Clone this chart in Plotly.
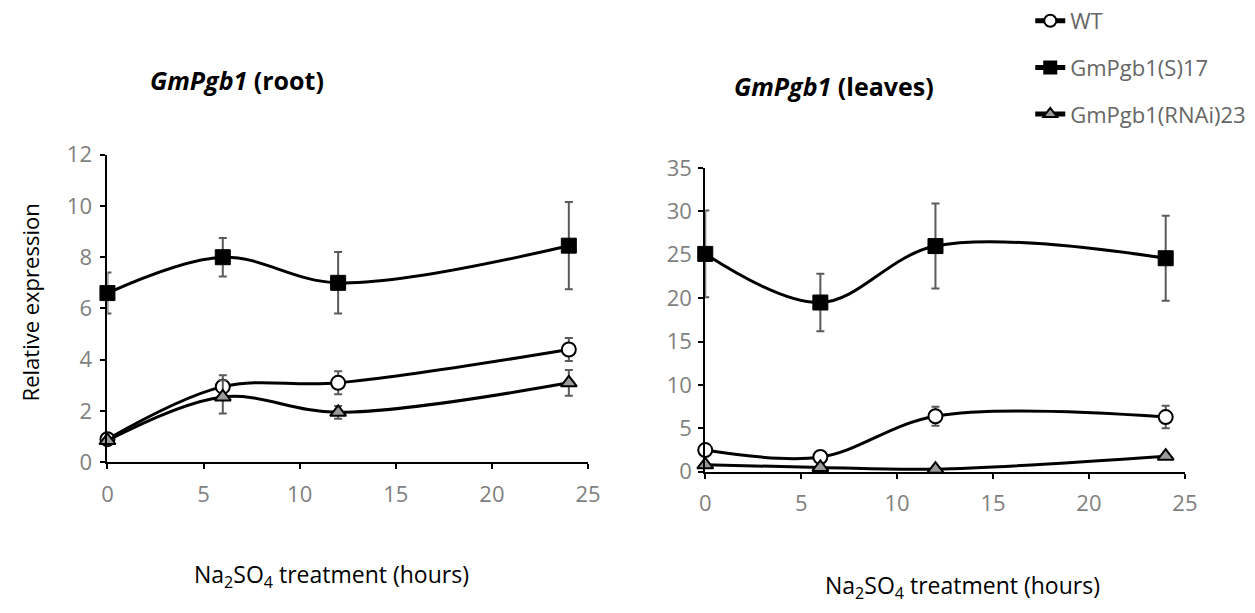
import plotly.graph_objects as go

hours = [0, 6, 12, 24]

# Root
root_wt = [0.9, 2.95, 3.1, 4.4]
root_wt_err = [0.1, 0.45, 0.45, 0.45]
root_s17 = [6.6, 8.0, 7.0, 8.45]
root_s17_err = [0.8, 0.75, 1.2, 1.7]
root_rnai = [0.85, 2.55, 1.95, 3.1]
root_rnai_err = [0.1, 0.65, 0.25, 0.5]

# Leaves
leaf_wt = [2.5, 1.7, 6.4, 6.3]
leaf_wt_err = [0.2, 0.2, 1.1, 1.3]
leaf_s17 = [25.1, 19.5, 26.0, 24.6]
leaf_s17_err = [5.0, 3.3, 4.9, 4.9]
leaf_rnai = [0.8, 0.5, 0.3, 1.8]
leaf_rnai_err = [0.1, 0.1, 0.1, 0.2]

series_names = ["WT", "GmPgb1(S)17", "GmPgb1(RNAi)23"]
x_ticks = [0, 5, 10, 15, 20, 25]
root_y_ticks = [0, 2, 4, 6, 8, 10, 12]
leaf_y_ticks = [0, 5, 10, 15, 20, 25, 30, 35]

W, H = 1255, 613
FONT = "Open Sans"
TICK_COLOR = "#7f7f7f"
ERR_COLOR = "#5a5a5a"

markers = [
    dict(symbol="circle", size=14, color="white", line=dict(color="black", width=2)),
    dict(symbol="square", size=15, color="black", line=dict(color="black", width=1)),
    dict(symbol="triangle-up", size=14, color="#9a9a9a", line=dict(color="black", width=2)),
]

fig = go.Figure()

root_sets = [(root_wt, root_wt_err), (root_s17, root_s17_err), (root_rnai, root_rnai_err)]
leaf_sets = [(leaf_wt, leaf_wt_err), (leaf_s17, leaf_s17_err), (leaf_rnai, leaf_rnai_err)]

for i, (vals, err) in enumerate(root_sets):
    fig.add_trace(go.Scatter(
        x=hours, y=vals, mode="lines+markers", name=series_names[i],
        legendgroup=series_names[i], showlegend=True,
        line=dict(color="black", width=3, shape="spline", smoothing=1),
        marker=markers[i],
        error_y=dict(type="data", array=err, color=ERR_COLOR, thickness=2, width=4),
        cliponaxis=False, xaxis="x", yaxis="y",
    ))
for i, (vals, err) in enumerate(leaf_sets):
    fig.add_trace(go.Scatter(
        x=hours, y=vals, mode="lines+markers", name=series_names[i],
        legendgroup=series_names[i], showlegend=False,
        line=dict(color="black", width=3, shape="spline", smoothing=1),
        marker=markers[i],
        error_y=dict(type="data", array=err, color=ERR_COLOR, thickness=2, width=4),
        cliponaxis=False, xaxis="x2", yaxis="y2",
    ))

def px_x(p):
    return p / W

def px_y(p):
    return 1 - p / H

axis_common = dict(
    showgrid=False, zeroline=False, showline=True, linecolor="black", linewidth=2,
    ticks="outside", ticklen=5, tickwidth=2, tickcolor="black",
    tickfont=dict(family=FONT, size=22, color=TICK_COLOR),
)

fig.update_layout(
    width=W, height=H, margin=dict(l=0, r=0, t=0, b=0),
    paper_bgcolor="white", plot_bgcolor="white",
    font=dict(family=FONT),
    xaxis=dict(domain=[px_x(103), px_x(591)], range=[0, 25], tickvals=x_ticks,
               anchor="y", ticklabelstandoff=6, **axis_common),
    yaxis=dict(domain=[px_y(469), px_y(145)], range=[0, 12], tickvals=root_y_ticks,
               anchor="x", ticklabelstandoff=4, **axis_common),
    xaxis2=dict(domain=[px_x(710), px_x(1197)], range=[0, 25], tickvals=x_ticks,
                anchor="y2", ticklabelstandoff=6, **axis_common),
    yaxis2=dict(domain=[px_y(479), px_y(159)], range=[0, 35], tickvals=leaf_y_ticks,
                anchor="x2", ticklabelstandoff=2, **axis_common),
    legend=dict(x=px_x(1040), y=px_y(-18), xanchor="left", yanchor="top",
                font=dict(family=FONT, size=22, color="#666666"),
                tracegroupgap=15, itemsizing="constant", bgcolor="rgba(0,0,0,0)"),
    showlegend=True,
)

annotations = [
    dict(text="<b><i>GmPgb1</i> (root)</b>", x=px_x(235), y=px_y(66),
         font=dict(size=25, color="black")),
    dict(text="<b><i>GmPgb1</i> (leaves)</b>", x=px_x(841), y=px_y(73),
         font=dict(size=25, color="black")),
    dict(text="Relative expression", x=px_x(24), y=px_y(301), textangle=-90,
         font=dict(size=22, color="black")),
    dict(text="Na<sub>2</sub>SO<sub>4</sub> treatment (hours)", x=px_x(331), y=px_y(588),
         font=dict(size=23, color="black")),
    dict(text="Na<sub>2</sub>SO<sub>4</sub> treatment (hours)", x=px_x(971), y=px_y(600),
         font=dict(size=23, color="black")),
]
for a in annotations:
    a.update(xref="paper", yref="paper", showarrow=False, xanchor="center", yanchor="middle")
    a["font"]["family"] = FONT
fig.update_layout(annotations=annotations)

fig.write_html("out.html")
